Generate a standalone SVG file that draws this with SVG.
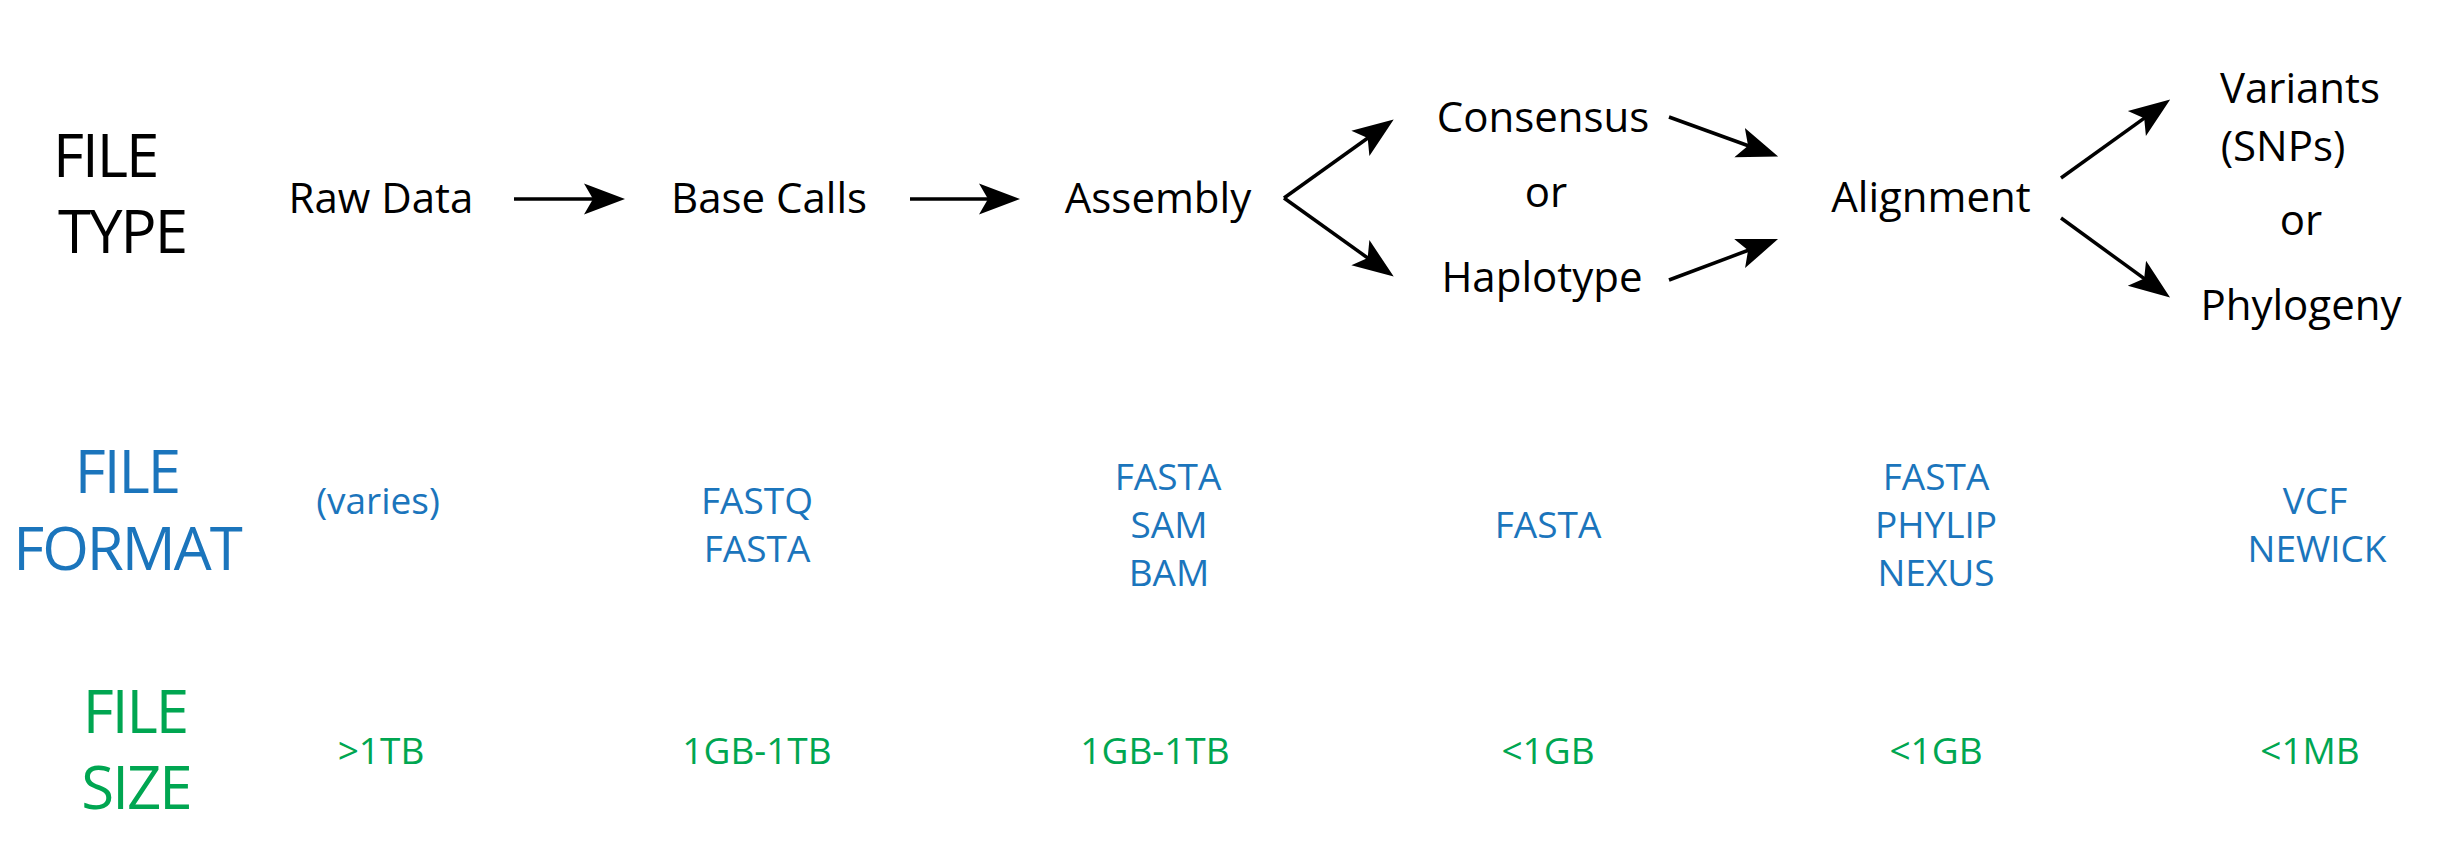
<svg xmlns="http://www.w3.org/2000/svg" width="2448" height="852" viewBox="0 0 2448 852">
<style>
text{font-family:"Open Sans","Noto Sans","Liberation Sans",sans-serif;}
.hd{font-size:60px;letter-spacing:-2px;}
.ty{font-size:42px;fill:#000;text-anchor:middle;}
.fm{font-size:37px;fill:#1B75BC;text-anchor:middle;}
.sz{font-size:37px;fill:#00A651;text-anchor:middle;}
.blk{fill:#000;}
.blu{fill:#1B75BC;text-anchor:middle;}
.grn{fill:#00A651;text-anchor:middle;}
.cn{stroke:#000;stroke-width:3.5;fill:none;}
</style>
<defs>
<marker id="ah" markerUnits="userSpaceOnUse" viewBox="0 -18 44 36" refX="10" refY="0" markerWidth="44" markerHeight="36" orient="auto">
<path d="M0,-15.5 L41,0 L0,15.5 L9,0 Z" fill="#000"/>
</marker>
</defs>
<rect width="2448" height="852" fill="#fff"/>
<g id="headers">
<text class="hd blk" x="53" y="177">FILE</text>
<text class="hd blk" x="58" y="253">TYPE</text>
<text class="hd blu" x="127" y="493">FILE</text>
<text class="hd blu" x="127" y="570">FORMAT</text>
<text class="hd grn" x="135" y="733">FILE</text>
<text class="hd grn" x="136" y="809">SIZE</text>
</g>
<g id="raw-data">
<text class="ty" x="381" y="213">Raw Data</text>
<text class="fm" x="378" y="514">(varies)</text>
<text class="sz" x="381" y="764">&gt;1TB</text>
</g>
<g id="base-calls">
<text class="ty" x="769" y="213">Base Calls</text>
<text class="fm" x="757" y="514">FASTQ</text>
<text class="fm" x="757" y="562">FASTA</text>
<text class="sz" x="757" y="764">1GB-1TB</text>
</g>
<g id="assembly">
<text class="ty" x="1158" y="213">Assembly</text>
<text class="fm" x="1168" y="490">FASTA</text>
<text class="fm" x="1169" y="538">SAM</text>
<text class="fm" x="1169" y="586">BAM</text>
<text class="sz" x="1155" y="764">1GB-1TB</text>
</g>
<g id="consensus-haplotype">
<text class="ty" x="1543" y="132">Consensus</text>
<text class="ty" x="1546" y="207">or</text>
<text class="ty" x="1542" y="292">Haplotype</text>
<text class="fm" x="1548" y="538">FASTA</text>
<text class="sz" x="1548" y="764">&lt;1GB</text>
</g>
<g id="alignment">
<text class="ty" x="1931" y="212">Alignment</text>
<text class="fm" x="1936" y="490">FASTA</text>
<text class="fm" x="1936" y="538">PHYLIP</text>
<text class="fm" x="1936" y="586">NEXUS</text>
<text class="sz" x="1936" y="764">&lt;1GB</text>
</g>
<g id="variants-phylogeny">
<text class="ty" x="2300" y="103">Variants</text>
<text class="ty" x="2283" y="161">(SNPs)</text>
<text class="ty" x="2301" y="235">or</text>
<text class="ty" x="2301" y="320">Phylogeny</text>
<text class="fm" x="2315" y="514">VCF</text>
<text class="fm" x="2317" y="562">NEWICK</text>
<text class="sz" x="2310" y="764">&lt;1MB</text>
</g>
<g id="connectors">
<line class="cn" x1="514" y1="199" x2="594" y2="199" marker-end="url(#ah)"/>
<line class="cn" x1="910" y1="199" x2="989" y2="199" marker-end="url(#ah)"/>
<line class="cn" x1="1284" y1="198" x2="1368.5" y2="137.5" marker-end="url(#ah)"/>
<line class="cn" x1="1284" y1="198" x2="1368.5" y2="258.5" marker-end="url(#ah)"/>
<line class="cn" x1="1669" y1="117" x2="1749" y2="146" marker-end="url(#ah)"/>
<line class="cn" x1="1669" y1="280" x2="1749" y2="250" marker-end="url(#ah)"/>
<line class="cn" x1="2061" y1="178" x2="2145" y2="117.7" marker-end="url(#ah)"/>
<line class="cn" x1="2061" y1="218" x2="2145" y2="279.2" marker-end="url(#ah)"/>
</g>
</svg>
